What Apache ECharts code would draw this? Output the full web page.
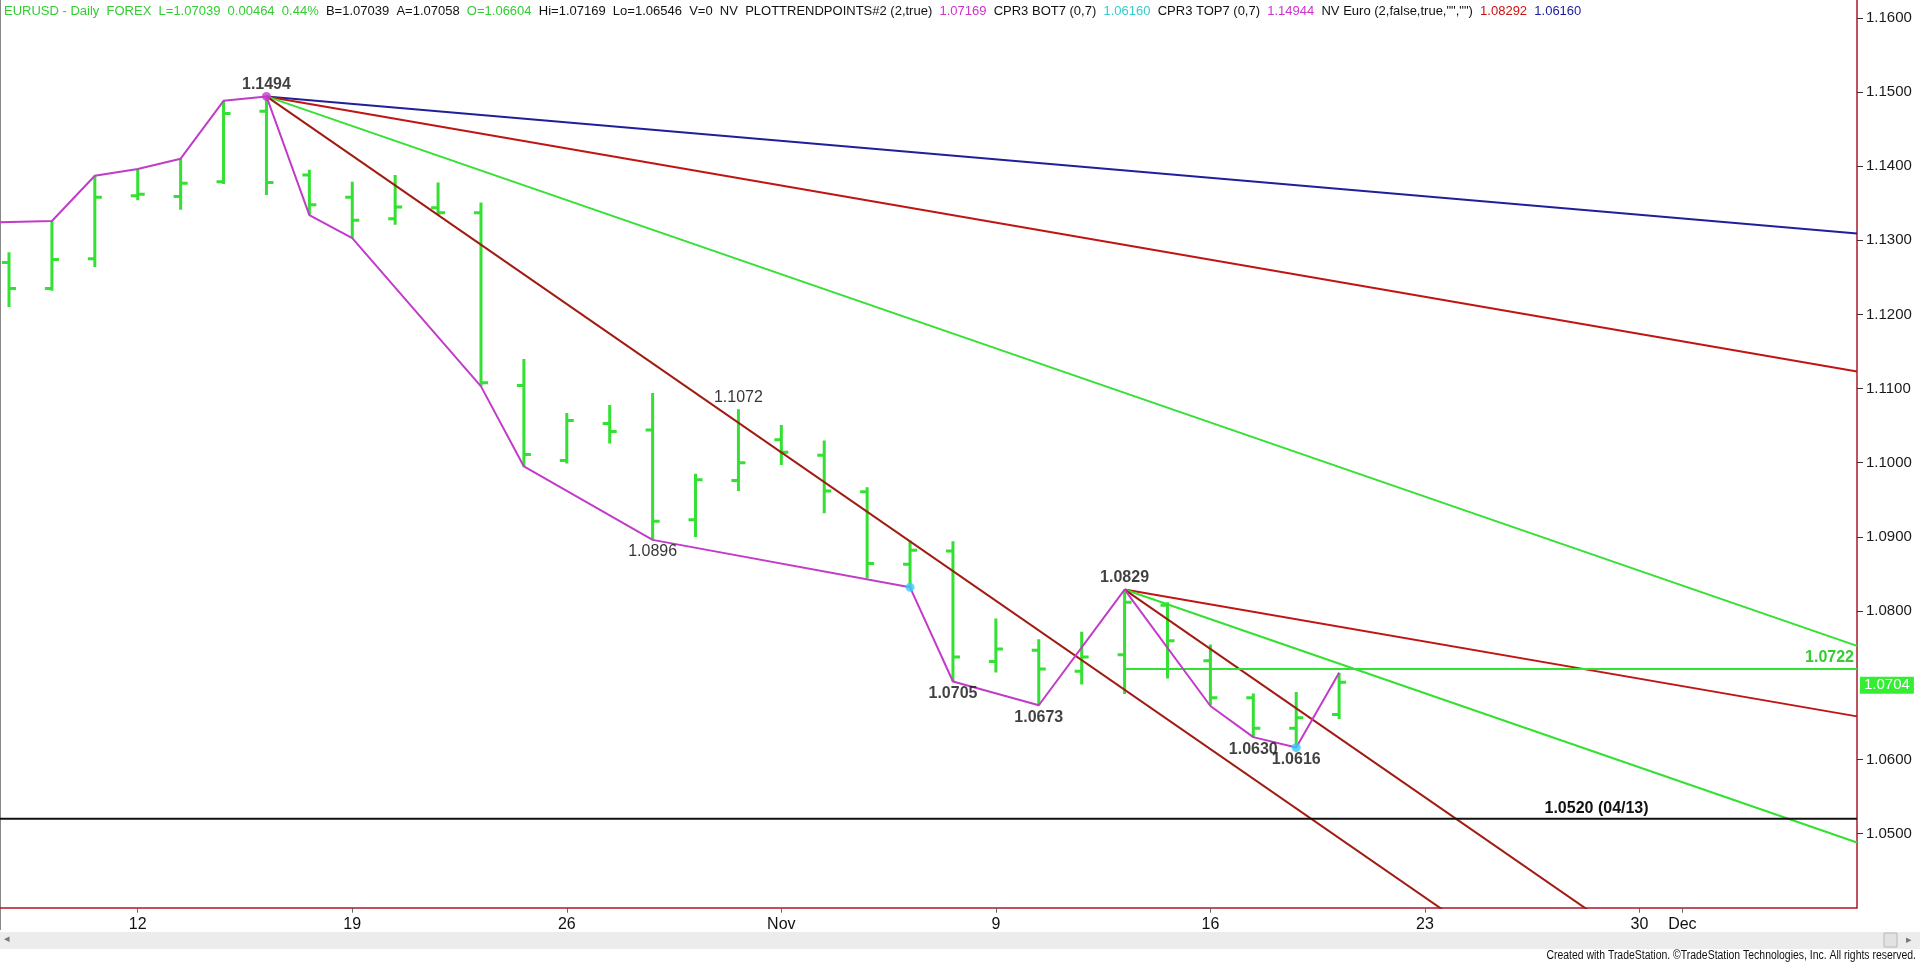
<!DOCTYPE html>
<html><head><meta charset="utf-8">
<script src="https://cdn.jsdelivr.net/npm/echarts@6/dist/echarts.min.js"></script>
<style>html,body{margin:0;padding:0;background:#fff;overflow:hidden}#c{width:1920px;height:964px}</style>
</head><body><div id="c"></div>
<script>
// ---- data (trading-day index 0 = Oct 7) ----
const dates = ['Oct 7','Oct 8','Oct 9','Oct 12','Oct 13','Oct 14','Oct 15','Oct 16','Oct 19','Oct 20','Oct 21','Oct 22','Oct 23','Oct 26','Oct 27','Oct 28','Oct 29','Oct 30','Nov 2','Nov 3','Nov 4','Nov 5','Nov 6','Nov 9','Nov 10','Nov 11','Nov 12','Nov 13','Nov 16','Nov 17','Nov 18','Nov 19'];
const opens  = [1.1270,1.1235,1.1275,1.1360,1.1359,1.1379,1.1474,1.1388,1.1358,1.1329,1.1344,1.1337,1.1104,1.1003,1.1053,1.1044,1.0923,1.0976,1.1031,1.1010,1.0961,1.0863,1.0881,1.0732,1.0747,1.0719,1.0741,1.0808,1.0733,1.0683,1.0642,1.06604];
const highs  = [1.1284,1.1326,1.1387,1.1396,1.1410,1.1488,1.1494,1.1395,1.1379,1.1388,1.1378,1.1351,1.1140,1.1067,1.1078,1.1094,1.0985,1.1072,1.1051,1.1030,1.0967,1.0895,1.0894,1.0790,1.0762,1.0772,1.0829,1.0812,1.0755,1.0689,1.0691,1.07169];
const lows   = [1.1210,1.1232,1.1264,1.1354,1.1341,1.1376,1.1361,1.1334,1.1303,1.1321,1.1334,1.1103,1.0995,1.0999,1.1026,1.0896,1.0900,1.0962,1.0997,1.0932,1.0844,1.0832,1.0705,1.0717,1.0673,1.0701,1.0688,1.0709,1.0673,1.0630,1.0616,1.06546];
const closes = [1.1235,1.1274,1.1358,1.1362,1.1377,1.1471,1.1378,1.1348,1.1327,1.1345,1.1337,1.1108,1.1011,1.1057,1.1042,1.0921,1.0977,1.1000,1.1014,1.0962,1.0864,1.0882,1.0738,1.0749,1.0722,1.0738,1.0812,1.0760,1.0683,1.0642,1.0656,1.07039];

const xTickIdx    = [3, 8, 13, 18, 23, 28, 33, 38, 39];
const xTickLabels = ['12','19','26','Nov','9','16','23','30','Dec'];
const yTickValues = [1.05,1.06,1.08,1.09,1.10,1.11,1.12,1.13,1.14,1.15,1.16];

// swing (trend point) line vertices
const zigIdx = [-1, 1, 2, 3, 4, 5, 6, 7, 8, 11, 12, 15, 21, 22, 24, 26, 28, 29, 30, 31];
const zigVal = [1.1323,1.1326,1.1387,1.1396,1.1410,1.1488,1.1494,1.1334,1.1303,1.1103,1.0995,1.0896,1.0832,1.0705,1.0673,1.0829,1.0672,1.0630,1.0616,1.07169];

// pivot labels
const pivIdx  = [6, 17, 15, 22, 24, 26, 29, 30];
const pivVal  = [1.1494, 1.1072, 1.0896, 1.0705, 1.0673, 1.0829, 1.0630, 1.0616];
const pivPos  = ['top','top','bottom','bottom','bottom','top','bottom','bottom'];
const pivBold = [true, false, false, true, true, true, true, true];

// trend lines: [startIdx, startVal, endIdx, endVal]
const lineBlueP1   = [6, 1.1494, 43.07, 1.1309];
const lineRedP1    = [6, 1.1494, 43.07, 1.1123];
const lineGreenP1  = [6, 1.1494, 43.07, 1.0753];
const lineSteepP1  = [6, 1.1494, 43.07, 1.0011];
const lineRedP2    = [26, 1.0829, 43.07, 1.0658];
const lineGreenP2  = [26, 1.0829, 43.07, 1.0488];
const lineSteepP2  = [26, 1.0829, 43.07, 1.0146];

const level50 = 1.0722, level50Start = 26;
const supportLevel = 1.0520, supportText = '1.0520 (04/13)', supportLabelIdx = 37;
const lastClose = 1.07039;
const cyanIdx = [21, 30], cyanVal = [1.0832, 1.0616];

// ---- styles ----
const GREEN = '#33e033', MAG = '#c23bc9', BLUE = '#1f1f99', RED = '#c01515', DRED = '#a01b12', AXIS = '#a8182a', CYAN = '#33ccff';
const X_MIN = -0.21, X_MAX = 43.07;
const FONT = 'Liberation Sans, Arial, sans-serif';

function seg(arr, color, w) {
  return { type: 'line', data: [[arr[0], arr[1]], [arr[2], arr[3]]], symbol: 'none', silent: true,
    lineStyle: { color: color, width: w || 2 }, z: 3 };
}

const chart = echarts.init(document.getElementById('c'));
const ohlc = dates.map((d, i) => [i, opens[i], highs[i], lows[i], closes[i]]);

chart.setOption({
  animation: false,
  backgroundColor: '#ffffff',
  grid: { left: 0, right: 63, top: 0, bottom: 56.3, containLabel: false },
  title: {
    left: 4, top: 5, padding: 0,
    text: '{g|EURUSD - Daily  FOREX  L=1.07039  0.00464  0.44%}  {k|B=1.07039  A=1.07058}  {g|O=1.06604}  {k|Hi=1.07169  Lo=1.06546  V=0  NV  PLOTTRENDPOINTS#2 (2,true)}  {m|1.07169}  {k|CPR3 BOT7 (0,7)}  {c|1.06160}  {k|CPR3 TOP7 (0,7)}  {m|1.14944}  {k|NV Euro (2,false,true,"","")}  {r|1.08292}  {b|1.06160}',
    textStyle: {
      fontFamily: FONT, fontSize: 13, fontWeight: 'normal',
      rich: {
        g: { color: '#33cc33', fontSize: 13, fontFamily: FONT },
        k: { color: '#111111', fontSize: 13, fontFamily: FONT },
        m: { color: '#cc33cc', fontSize: 13, fontFamily: FONT },
        c: { color: '#33cccc', fontSize: 13, fontFamily: FONT },
        r: { color: '#cc1111', fontSize: 13, fontFamily: FONT },
        b: { color: '#1a1a99', fontSize: 13, fontFamily: FONT }
      }
    }
  },
  xAxis: {
    type: 'value', min: X_MIN, max: X_MAX, position: 'bottom',
    splitLine: { show: false },
    axisLine: { show: true, onZero: false, lineStyle: { color: AXIS, width: 1.5 } },
    axisTick: { show: true, customValues: xTickIdx, length: 5, lineStyle: { color: '#666' } },
    axisLabel: { show: true, customValues: xTickIdx, margin: 9, fontSize: 16, color: '#111',
      fontFamily: FONT,
      formatter: v => { const k = xTickIdx.indexOf(Math.round(v)); return k >= 0 ? xTickLabels[k] : ''; } }
  },
  yAxis: {
    type: 'value', position: 'right', min: 1.04, max: 1.1624, scale: true,
    splitLine: { show: false },
    axisLine: { show: true, onZero: false, lineStyle: { color: AXIS, width: 1.5 } },
    axisTick: { show: true, customValues: yTickValues, length: 6, lineStyle: { color: '#333' } },
    axisLabel: { show: true, customValues: yTickValues, margin: 9, fontSize: 15, color: '#1a1a1a',
      fontFamily: FONT, formatter: v => v.toFixed(4) }
  },
  graphic: [
    { type: 'line', shape: { x1: 0.5, y1: 0, x2: 0.5, y2: 930 }, style: { stroke: '#888', lineWidth: 1 }, silent: true },
    { type: 'rect', shape: { x: 0, y: 932, width: 1920, height: 17 }, style: { fill: '#ececec' }, silent: true },
    { type: 'text', x: 4, y: 933, style: { text: '◂', fill: '#777', fontSize: 11 }, silent: true },
    { type: 'rect', shape: { x: 1884, y: 933, width: 13, height: 14 }, style: { fill: '#e2e2e2', stroke: '#b8b8b8' }, silent: true },
    { type: 'text', x: 1906, y: 934, style: { text: '▸', fill: '#777', fontSize: 11 }, silent: true },
    { type: 'text', x: 1916, y: 950, scaleX: 0.87, style: { text: 'Created with TradeStation. ©TradeStation Technologies, Inc. All rights reserved.', fill: '#111', fontSize: 12, fontFamily: FONT, align: 'right' }, silent: true }
  ],
  series: [
    {
      type: 'custom', name: 'EURUSD', data: ohlc, clip: true, z: 2,
      encode: { x: 0, y: [1, 2, 3, 4] },
      renderItem: function (params, api) {
        const x = api.value(0);
        const o = api.coord([x, api.value(1)]);
        const h = api.coord([x, api.value(2)]);
        const l = api.coord([x, api.value(3)]);
        const c = api.coord([x, api.value(4)]);
        const st = { stroke: GREEN, lineWidth: 3 };
        return { type: 'group', children: [
          { type: 'line', shape: { x1: h[0], y1: h[1], x2: l[0], y2: l[1] }, style: st },
          { type: 'line', shape: { x1: o[0] - 7, y1: o[1], x2: o[0], y2: o[1] }, style: st },
          { type: 'line', shape: { x1: c[0], y1: c[1], x2: c[0] + 7, y2: c[1] }, style: st }
        ] };
      },
      markLine: {
        symbol: 'none', silent: true,
        lineStyle: { color: 'rgba(0,0,0,0)', width: 0, type: 'solid' },
        data: [{ yAxis: lastClose }],
        label: { show: true, position: 'end', distance: 3, formatter: lastClose.toFixed(4),
          backgroundColor: '#33ee33', color: '#ffffff', fontSize: 15, padding: [1, 4, 1, 4],
          fontFamily: FONT, opacity: 1 }
      }
    },
    seg(lineBlueP1, BLUE),
    seg(lineRedP1, RED),
    seg(lineGreenP1, GREEN),
    seg(lineSteepP1, DRED),
    seg(lineRedP2, RED),
    seg(lineGreenP2, GREEN),
    seg(lineSteepP2, DRED),
    {
      type: 'line', data: zigIdx.map((x, i) => [x, zigVal[i]]), symbol: 'none', z: 4,
      lineStyle: { color: MAG, width: 2 }, silent: true
    },
    {
      type: 'line', data: [[level50Start, level50], [X_MAX, level50]], symbol: 'none', z: 3,
      lineStyle: { color: GREEN, width: 2 }, silent: true,
      markLine: { symbol: 'none', silent: true, lineStyle: { color: 'rgba(0,0,0,0)', width: 0 },
        data: [[{ coord: [level50Start, level50] }, { coord: [X_MAX, level50] }]],
        label: { show: true, position: 'insideEndTop', distance: [3, 3], formatter: level50.toFixed(4),
          color: '#33cc33', fontWeight: 'bold', fontSize: 16, fontFamily: FONT, opacity: 1 } }
    },
    {
      type: 'line', data: [[X_MIN, supportLevel], [X_MAX, supportLevel]], symbol: 'none', z: 3,
      lineStyle: { color: '#111', width: 2 }, silent: true,
      markPoint: { symbol: 'circle', symbolSize: 0, silent: true,
        data: [{ coord: [supportLabelIdx, supportLevel], value: supportText }],
        label: { show: true, position: 'top', distance: 2, formatter: supportText, color: '#111',
          fontWeight: 'bold', fontSize: 16, fontFamily: FONT } }
    },
    {
      type: 'scatter', data: [[pivIdx[0], pivVal[0]]], symbolSize: 9, z: 6, silent: true,
      itemStyle: { color: MAG }
    },
    {
      type: 'scatter', data: cyanIdx.map((x, i) => [x, cyanVal[i]]), symbolSize: 9, z: 6, silent: true,
      itemStyle: { color: CYAN }
    },
    {
      type: 'scatter', symbolSize: 0, z: 7, silent: true,
      data: pivIdx.map((x, i) => ({ value: [x, pivVal[i]],
        label: { position: pivPos[i], fontWeight: pivBold[i] ? 'bold' : 'normal', color: pivBold[i] ? '#111' : '#000' } })),
      label: { show: true, distance: 4, color: '#111', fontSize: 16,
        fontFamily: FONT, formatter: p => p.value[1].toFixed(4) }
    }
  ]
});
</script></body></html>
